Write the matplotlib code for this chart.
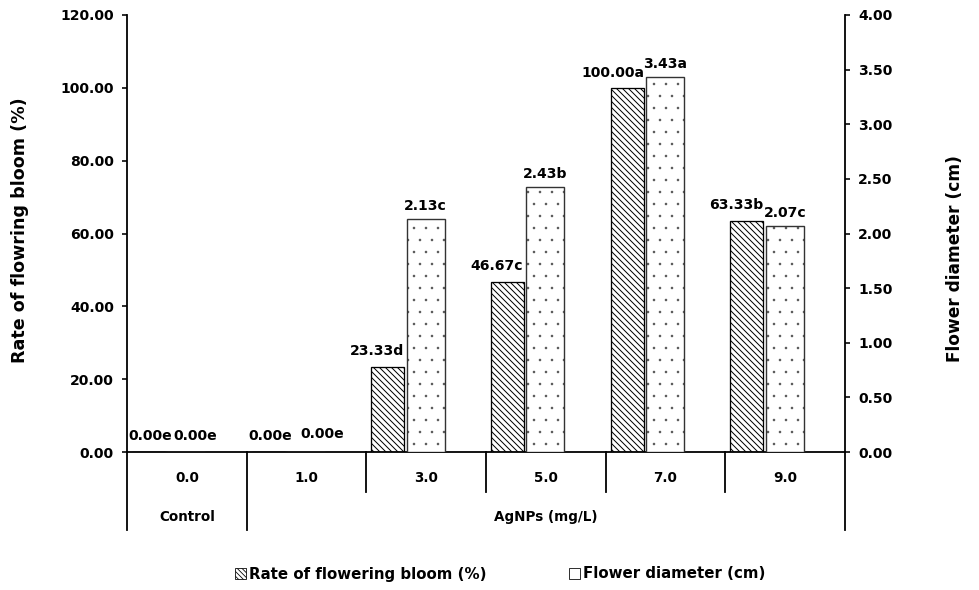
import matplotlib.pyplot as plt
from matplotlib.patches import Patch
import matplotlib.transforms as mtransforms

# Data
doses = ["0.0", "1.0", "3.0", "5.0", "7.0", "9.0"]
groups = ["Control", "AgNPs (mg/L)"]
group_spans = [(0, 0), (1, 5)]
bloom_rate = [0.00, 0.00, 23.33, 46.67, 100.00, 63.33]
bloom_letters = ["e", "e", "d", "c", "a", "b"]
diameter = [0.00, 0.00, 2.13, 2.43, 3.43, 2.07]
diameter_letters = ["e", "e", "c", "b", "a", "c"]

plt.rcParams['font.family'] = 'DejaVu Sans'
plt.rcParams['font.weight'] = 'bold'

W, H = 979, 590
fig = plt.figure(figsize=(W / 72, H / 72), dpi=72)
ax = fig.add_axes([127 / W, 1 - 452 / H, (845 - 127) / W, (452 - 15) / H])
ax2 = ax.twinx()

x = range(len(doses))
w1, w2 = 0.276, 0.317
x1 = [i - 0.458 for i in x]
x2 = [i - 0.162 for i in x]

plt.rcParams['hatch.linewidth'] = 1.0
b1 = ax.bar(x1, bloom_rate, width=w1, align='edge', color='white', edgecolor='black',
            linewidth=1.3, hatch='\\\\\\\\', zorder=2)
plt.rcParams['hatch.linewidth'] = 0.1
# dotted texture in grey, then a dark outline on top
b2 = ax2.bar(x2, diameter, width=w2, align='edge', color='white', edgecolor='#555555',
             linewidth=0, hatch='.', zorder=2)
ax2.bar(x2, diameter, width=w2, align='edge', fill=False, edgecolor='#333333',
        linewidth=1.4, zorder=3)
for p in b1:
    if hasattr(p, 'set_hatch_linewidth'):
        p.set_hatch_linewidth(1.0)
for p in b2:
    if hasattr(p, 'set_hatch_linewidth'):
        p.set_hatch_linewidth(0.1)
plt.rcParams['hatch.linewidth'] = 0.8

ax.set_xlim(-0.5, 5.5)
ax.set_ylim(0, 120)
ax2.set_ylim(0, 4)
ax.set_yticks(range(0, 121, 20))
ax.set_yticklabels([f"{v:.2f}" for v in range(0, 121, 20)])
yt2 = [i * 0.5 for i in range(9)]
ax2.set_yticks(yt2)
ax2.set_yticklabels([f"{v:.2f}" for v in yt2])
ax.set_xticks([])

for a in (ax, ax2):
    a.spines['top'].set_visible(False)
    a.tick_params(axis='y', labelsize=14, length=5, width=1.6, direction='out', pad=8)
    for s in a.spines.values():
        s.set_linewidth(1.8)
ax2.spines['left'].set_visible(False)
ax2.spines['bottom'].set_visible(False)
ax.spines['right'].set_visible(False)

fig.text(20 / W, 1 - 230 / H, "Rate of flowring bloom (%)", rotation=90, ha='center',
         va='center', fontsize=17.5, fontweight='bold')
fig.text(955 / W, 1 - 258 / H, "Flower diameter (cm)", rotation=90, ha='center',
         va='center', fontsize=17, fontweight='bold')

# value labels
off1 = [(2, 9), (2, 9), (-11, 9), (-11, 9), (-14, 8), (-11, 9)]
off2 = [(9, 9), (16, 11), (0, 6), (0, 6), (0, 6), (0, 6)]
for i in x:
    ax.annotate(f"{bloom_rate[i]:.2f}{bloom_letters[i]}", (x1[i] + w1 / 2, bloom_rate[i]),
                xytext=off1[i], textcoords='offset points', ha='center', va='bottom',
                fontsize=14, fontweight='bold')
    ax2.annotate(f"{diameter[i]:.2f}{diameter_letters[i]}", (x2[i] + w2 / 2, diameter[i]),
                 xytext=off2[i], textcoords='offset points', ha='center', va='bottom',
                 fontsize=14, fontweight='bold')

# multi-level category axis
trans = mtransforms.blended_transform_factory(ax.transData, ax.transAxes)
y1 = -(492 - 452) / 437
y2 = -(530 - 452) / 437
for i in x:
    ax.text(i, -(478 - 452) / 437, doses[i], transform=trans, ha='center', va='center',
            fontsize=13.5, fontweight='bold')
edges = [-0.5 + k for k in range(len(doses) + 1)]
group_edges = [-0.5] + [b + 0.5 for a, b in group_spans]
for e in edges:
    bottom = y2 if e in group_edges else y1
    ax.plot([e, e], [0, bottom], transform=trans, color='black', lw=1.8, clip_on=False)
for name, (a, b) in zip(groups, group_spans):
    ax.text((a + b) / 2, -(517 - 452) / 437, name, transform=trans, ha='center',
            va='center', fontsize=13.5, fontweight='bold')

handles = [Patch(facecolor='white', edgecolor='black', hatch='\\\\\\\\\\', lw=0.8),
           Patch(facecolor='white', edgecolor='black', lw=0.8)]
fig.legend(handles, ["Rate of flowering bloom (%)", "Flower diameter (cm)"],
           loc='center', bbox_to_anchor=(500 / W, 1 - 574 / H), ncol=2, frameon=False,
           handlelength=0.75, handleheight=0.75, handletextpad=0.2, columnspacing=5.5,
           prop={'size': 15, 'weight': 'bold'})

fig.savefig("out.png", dpi=72)
